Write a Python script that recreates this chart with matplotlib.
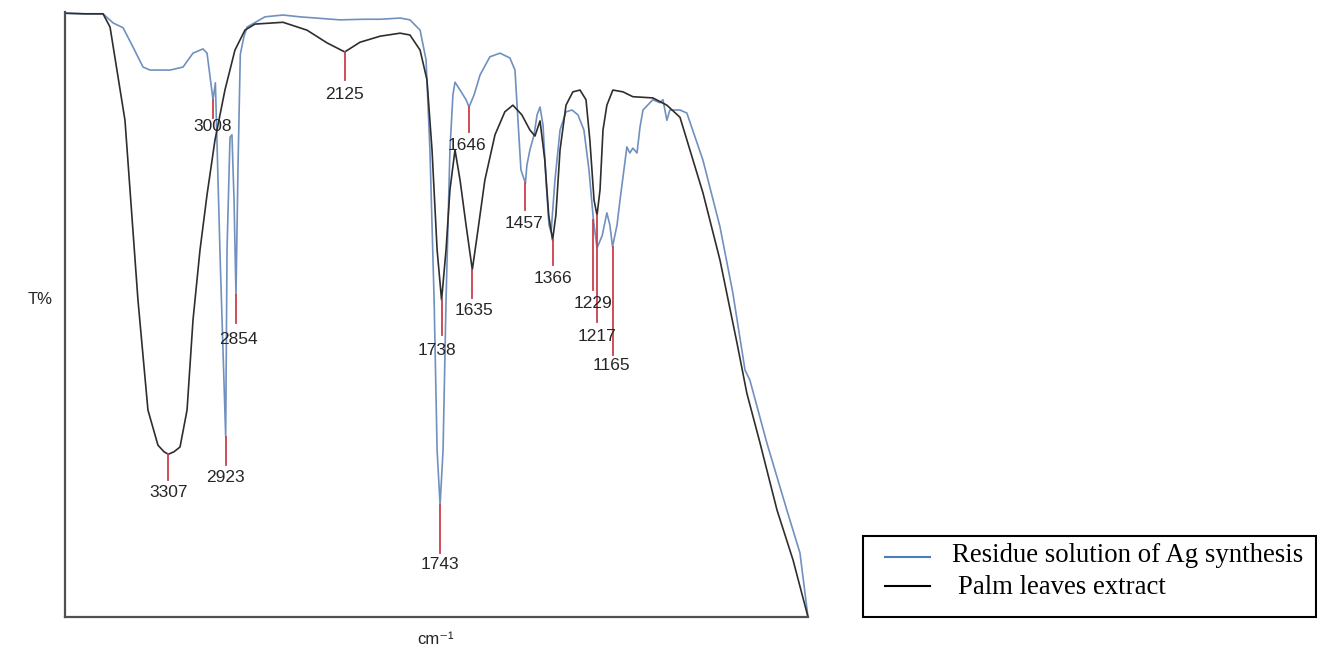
import numpy as np
import matplotlib
matplotlib.use('Agg')
import matplotlib.pyplot as plt
from matplotlib.lines import Line2D
from matplotlib.patches import Rectangle

W, H = 1317, 652

# Palm leaves extract (black curve): wavenumber / cm-1 and T%
black_wn = [4000, 3866, 3745, 3698, 3598, 3511, 3444, 3377, 3336, 3307, 3270, 3229, 3182, 3142,
            3095, 3048, 2995, 2928, 2861, 2794, 2727, 2539, 2378, 2244, 2125, 2023, 1944, 1877,
            1844, 1810, 1787, 1770, 1753, 1738, 1723, 1710, 1693, 1676, 1656, 1635, 1616, 1593,
            1559, 1526, 1499, 1469, 1442, 1425, 1408, 1392, 1379, 1366, 1355, 1341, 1321, 1298,
            1274, 1254, 1241, 1227, 1217, 1207, 1197, 1184, 1164, 1130, 1097, 1030, 983, 939,
            862, 805, 748, 715, 671, 614, 560, 510]
black_T = [99.8, 99.7, 99.7, 97.5, 82.1, 52.4, 34.2, 28.4, 27.3, 26.9, 27.3, 28.1, 34.2, 49.1,
           60.7, 69.8, 78.8, 87.1, 93.7, 97.0, 98.0, 98.3, 97.0, 94.9, 93.4, 95.0, 96.0, 96.5,
           96.2, 93.7, 88.8, 77.2, 60.7, 52.4, 60.7, 70.6, 77.2, 72.2, 64.8, 57.4, 64.0, 72.2,
           79.7, 83.5, 84.6, 83.0, 80.5, 79.5, 82.0, 75.5, 66.4, 62.3, 66.4, 77.2, 84.6, 86.8,
           87.1, 85.5, 78.8, 68.9, 66.4, 70.6, 80.5, 84.6, 87.1, 86.8, 86.0, 85.8, 84.6, 82.6,
           70.1, 59.0, 45.3, 37.0, 28.8, 17.7, 9.4, 0.0]

# Residue solution of Ag synthesis (blue curve)
blue_wn = [4000, 3866, 3745, 3678, 3611, 3544, 3477, 3430, 3296, 3209, 3142, 3075, 3048, 3008,
           2992, 2961, 2923, 2914, 2894, 2881, 2867, 2854, 2840, 2825, 2800, 2780, 2660, 2539,
           2425, 2157, 2000, 1944, 1877, 1844, 1810, 1790, 1777, 1763, 1753, 1743, 1733, 1723,
           1710, 1700, 1693, 1676, 1656, 1646, 1629, 1609, 1576, 1542, 1509, 1492, 1482, 1472,
           1457, 1452, 1442, 1428, 1418, 1408, 1398, 1388, 1378, 1371, 1358, 1341, 1321, 1301,
           1281, 1261, 1244, 1229, 1217, 1200, 1184, 1174, 1165, 1150, 1140, 1117, 1107, 1097,
           1083, 1073, 1063, 1030, 1006, 996, 983, 973, 939, 916, 862, 805, 762, 721,
           705, 648, 581, 537, 510]
blue_T = [99.8, 99.7, 99.7, 98.2, 97.4, 94.2, 90.9, 90.4, 90.4, 90.9, 93.2, 93.9, 93.2, 85.5,
          88.3, 60.0, 29.8, 60.7, 79.3, 79.7, 68.9, 53.2, 75.0, 93.0, 96.0, 97.5, 99.2, 99.5,
          99.2, 98.7, 98.8, 98.8, 99.0, 98.7, 97.0, 92.1, 77.2, 52.4, 27.6, 18.5, 27.6, 52.4,
          77.2, 86.3, 88.4, 87.1, 85.5, 84.3, 86.3, 89.6, 92.6, 93.2, 92.4, 90.4, 82.1, 73.9,
          71.7, 74.7, 77.2, 79.7, 83.0, 84.3, 81.3, 72.2, 64.8, 63.6, 72.2, 80.5, 83.5, 83.8,
          83.0, 80.5, 73.9, 65.6, 61.0, 63.0, 66.8, 64.8, 61.2, 64.8, 68.9, 77.7, 76.7, 77.5,
          76.7, 81.0, 83.8, 85.5, 85.0, 85.5, 82.1, 83.8, 83.8, 83.3, 75.5, 64.5, 53.6, 40.8,
          39.2, 28.8, 17.7, 10.6, 0.0]

# peak picks: label, wavenumber, T at the peak, T at the end of the red tick, T of the label
peak_labels = ['3307', '3008', '2923', '2854', '2125', '1743', '1738', '1646', '1635', '1457',
               '1366', '1229', '1217', '1165']
peak_wn = [3307, 3008, 2923, 2854, 2125, 1743, 1738, 1646, 1635, 1457, 1366, 1229, 1217, 1165]
peak_T = [26.9, 85.5, 29.8, 53.2, 93.4, 18.5, 52.4, 84.3, 57.4, 71.7, 62.3, 65.6, 66.4, 61.2]
tick_T = [22.6, 82.5, 25.1, 48.6, 88.8, 10.6, 46.6, 80.2, 52.7, 67.3, 58.2, 54.0, 48.8, 43.3]
label_T = [20.5, 81.0, 23.0, 45.8, 86.3, 8.6, 44.1, 77.9, 50.6, 65.1, 56.0, 51.9, 46.4, 41.5]
label_dx = [0, 0, 0, 2, 0, 0, -5, -2, 2, -1, 0, 0, 0, -1]

series_names = ['Residue solution of Ag synthesis', 'Palm leaves extract']


def fwd(w):  # 4000-2000 is drawn at half scale
    w = np.asarray(w, dtype=float)
    return np.where(w > 2000, 2000 + (w - 2000) / 2., w)


def inv(u):
    u = np.asarray(u, dtype=float)
    return np.where(u > 2000, 2000 + (u - 2000) * 2., u)


fig = plt.figure(figsize=(W / 100., H / 100.), dpi=100)
ax = fig.add_axes([65. / W, 35. / H, 743. / W, 605. / H])
ax.set_xscale('function', functions=(fwd, inv))

ax.plot(blue_wn, blue_T, color='#7090c0', lw=1.2, clip_on=False)
ax.plot(black_wn, black_T, color='#2e2e2e', lw=1.2, clip_on=False)

for lab, w, t0, t1, tl, dx in zip(peak_labels, peak_wn, peak_T, tick_T, label_T, label_dx):
    ax.plot([w, w], [t0, t1], color='#c8404a', lw=1.3)
    ax.annotate(lab, xy=(w, tl), xytext=(dx, 0), textcoords='offset pixels',
                ha='center', va='center', fontsize=12.5, color='#262626',
                family='Liberation Sans')

ax.set_xlim(4000, 510)
ax.set_ylim(0, 100)
ax.set_xticks([])
ax.set_yticks([])
for s in ['top', 'right']:
    ax.spines[s].set_visible(False)
for s in ['left', 'bottom']:
    ax.spines[s].set_color('#505050')
    ax.spines[s].set_linewidth(1.6)

fig.text(40. / W, 1 - 300. / H, 'T%', ha='center', va='center', fontsize=12,
         family=['Liberation Sans', 'DejaVu Sans'], color='#262626')
fig.text(435. / W, 1 - 640. / H, 'cm\u207b\u00b9', ha='center', va='center', fontsize=12,
         family=['Liberation Sans', 'DejaVu Sans'], color='#262626')

# legend box, drawn by hand like the original
fig.add_artist(Rectangle((863. / W, 35. / H), 453. / W, 81. / H, transform=fig.transFigure,
                         facecolor='white', edgecolor='black', lw=1.5))
fig.add_artist(Line2D([885. / W, 930. / W], [1 - 557. / H, 1 - 557. / H],
                      transform=fig.transFigure, color='#4a7ebb', lw=1.5))
fig.add_artist(Line2D([885. / W, 930. / W], [1 - 586. / H, 1 - 586. / H],
                      transform=fig.transFigure, color='black', lw=1.5))
fig.text(952. / W, 1 - 562. / H, series_names[0], ha='left', va='baseline', fontsize=19.3,
         family='Liberation Serif')
fig.text(958. / W, 1 - 594. / H, series_names[1], ha='left', va='baseline', fontsize=19.3,
         family='Liberation Serif')

fig.savefig('out.png', dpi=100)
